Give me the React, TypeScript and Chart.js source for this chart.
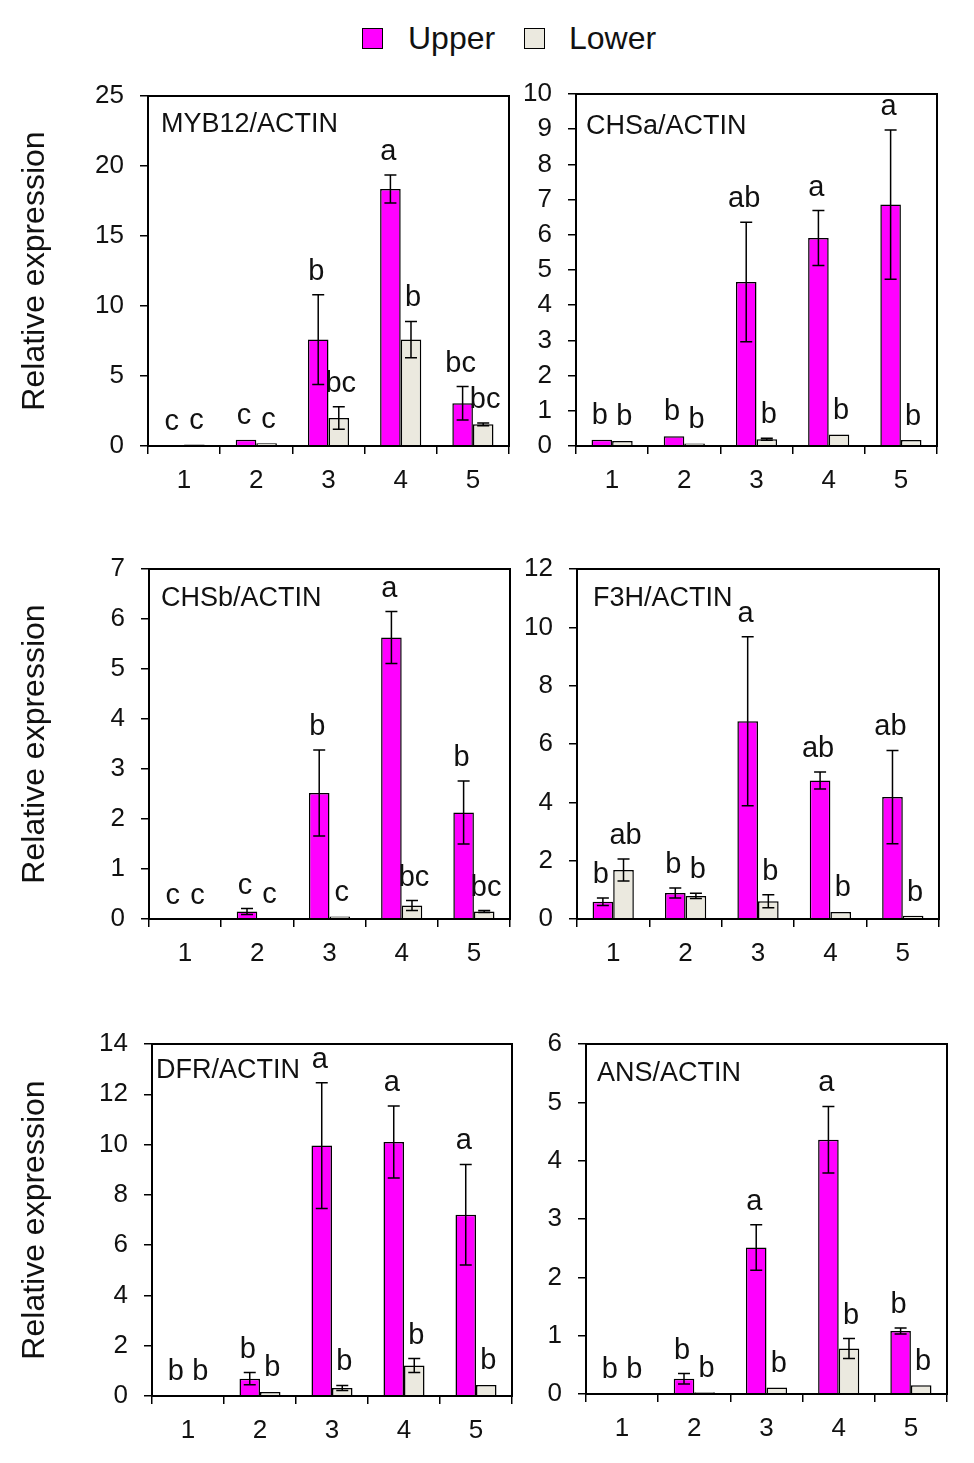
import React, { useEffect, useRef } from "react";
import { Chart, registerables } from "chart.js";

Chart.register(...registerables);

// ---------------- DATA ----------------
const categories = ["1", "2", "3", "4", "5"];
const seriesNames = ["Upper", "Lower"];
const panelTitles = ["MYB12/ACTIN", "CHSa/ACTIN", "CHSb/ACTIN", "F3H/ACTIN", "DFR/ACTIN", "ANS/ACTIN"];
const panelYMax = [25, 10, 7, 12, 14, 6];
const panelYStep = [5, 1, 1, 2, 2, 1];
const yAxisTitle = "Relative expression";

// MYB12
const myb12Upper = [0.05, 0.45, 7.6, 18.35, 3.05];
const myb12UpperErr = [0.02, 0.05, 3.2, 1.0, 1.2];
const myb12Lower = [0.1, 0.2, 2.0, 7.6, 1.55];
const myb12LowerErr = [0.03, 0.05, 0.8, 1.3, 0.1];
const myb12UpperLetters = ["c", "c", "b", "a", "bc"];
const myb12LowerLetters = ["c", "c", "bc", "b", "bc"];

// CHSa
const chsaUpper = [0.18, 0.28, 4.66, 5.91, 6.86];
const chsaUpperErr = [0.02, 0.02, 1.7, 0.78, 2.12];
const chsaLower = [0.14, 0.07, 0.19, 0.33, 0.17];
const chsaLowerErr = [0.02, 0.01, 0.03, 0.02, 0.01];
const chsaUpperLetters = ["b", "b", "ab", "a", "a"];
const chsaLowerLetters = ["b", "b", "b", "b", "b"];

// CHSb
const chsbUpper = [0.01, 0.15, 2.52, 5.63, 2.13];
const chsbUpperErr = [0.0, 0.06, 0.86, 0.52, 0.63];
const chsbLower = [0.01, 0.02, 0.05, 0.27, 0.15];
const chsbLowerErr = [0.0, 0.0, 0.01, 0.1, 0.02];
const chsbUpperLetters = ["c", "c", "b", "a", "b"];
const chsbLowerLetters = ["c", "c", "c", "bc", "bc"];

// F3H
const f3hUpper = [0.59, 0.89, 6.78, 4.75, 4.18];
const f3hUpperErr = [0.13, 0.17, 2.9, 0.29, 1.6];
const f3hLower = [1.68, 0.79, 0.61, 0.24, 0.11];
const f3hLowerErr = [0.38, 0.09, 0.22, 0.02, 0.01];
const f3hUpperLetters = ["b", "b", "a", "ab", "ab"];
const f3hLowerLetters = ["ab", "b", "b", "b", "b"];

// DFR
const dfrUpper = [0.02, 0.69, 9.96, 10.1, 7.21];
const dfrUpperErr = [0.0, 0.24, 2.5, 1.43, 2.0];
const dfrLower = [0.02, 0.16, 0.32, 1.21, 0.44];
const dfrLowerErr = [0.0, 0.02, 0.1, 0.28, 0.02];
const dfrUpperLetters = ["b", "b", "a", "a", "a"];
const dfrLowerLetters = ["b", "b", "b", "b", "b"];

// ANS
const ansUpper = [0.01, 0.26, 2.51, 4.36, 1.08];
const ansUpperErr = [0.0, 0.09, 0.39, 0.57, 0.05];
const ansLower = [0.01, 0.03, 0.11, 0.78, 0.15];
const ansLowerErr = [0.0, 0.0, 0.01, 0.17, 0.01];
const ansUpperLetters = ["b", "b", "a", "a", "b"];
const ansLowerLetters = ["b", "b", "b", "b", "b"];

// ---------------- STYLE / LAYOUT ----------------
const FONT = "'Liberation Sans', Arial, Helvetica, sans-serif";
const UPPER_COLOR = "#FF00FF";
const LOWER_COLOR = "#EBE9DF";
const TEXT_COLOR = "#111";

type Layout = {
  x: number; y: number; w: number; h: number;
  yw: number; xh: number; padTop: number; padRight: number;
  tdx: number; tdy: number; showYTitle: boolean;
};

// chart areas (page px): P1 148-509 x 96-446, P2 576-937 x 94-446, P3 149-510 x 569-919,
// P4 577-939 x 569-919, P5 152-512 x 1044-1396, P6 586-947 x 1044-1394
const layouts: Layout[] = [
  { x: 0, y: 60, w: 520, h: 450, yw: 148, xh: 64, padTop: 36, padRight: 11, tdx: 13, tdy: 36, showYTitle: true },
  { x: 520, y: 60, w: 454, h: 450, yw: 56, xh: 64, padTop: 34, padRight: 37, tdx: 10, tdy: 40, showYTitle: false },
  { x: 0, y: 535, w: 520, h: 450, yw: 149, xh: 66, padTop: 34, padRight: 10, tdx: 12, tdy: 37, showYTitle: true },
  { x: 520, y: 535, w: 454, h: 450, yw: 57, xh: 66, padTop: 34, padRight: 35, tdx: 16, tdy: 37, showYTitle: false },
  { x: 0, y: 1010, w: 520, h: 453, yw: 152, xh: 67, padTop: 34, padRight: 8, tdx: 4, tdy: 34, showYTitle: true },
  { x: 520, y: 1010, w: 454, h: 453, yw: 66, xh: 69, padTop: 34, padRight: 27, tdx: 11, tdy: 37, showYTitle: false },
];

const panelSeries = [
  { upper: myb12Upper, upperErr: myb12UpperErr, lower: myb12Lower, lowerErr: myb12LowerErr, ul: myb12UpperLetters, ll: myb12LowerLetters },
  { upper: chsaUpper, upperErr: chsaUpperErr, lower: chsaLower, lowerErr: chsaLowerErr, ul: chsaUpperLetters, ll: chsaLowerLetters },
  { upper: chsbUpper, upperErr: chsbUpperErr, lower: chsbLower, lowerErr: chsbLowerErr, ul: chsbUpperLetters, ll: chsbLowerLetters },
  { upper: f3hUpper, upperErr: f3hUpperErr, lower: f3hLower, lowerErr: f3hLowerErr, ul: f3hUpperLetters, ll: f3hLowerLetters },
  { upper: dfrUpper, upperErr: dfrUpperErr, lower: dfrLower, lowerErr: dfrLowerErr, ul: dfrUpperLetters, ll: dfrLowerLetters },
  { upper: ansUpper, upperErr: ansUpperErr, lower: ansLower, lowerErr: ansLowerErr, ul: ansUpperLetters, ll: ansLowerLetters },
];

function makeOverlay(idx: number) {
  const s = panelSeries[idx];
  const L = layouts[idx];
  const errs = [s.upperErr, s.lowerErr];
  const letters = [s.ul, s.ll];
  const spread = [-2, 2];
  return {
    id: "overlay" + idx,
    afterDatasetsDraw(chart: any) {
      const { ctx, chartArea } = chart;
      const yS = chart.scales.y;
      ctx.save();
      // frame (top and right sides of the box)
      ctx.strokeStyle = "#000";
      ctx.lineWidth = 2;
      ctx.strokeRect(chartArea.left, chartArea.top, chartArea.right - chartArea.left, chartArea.bottom - chartArea.top);
      // error bars and significance letters
      chart.data.datasets.forEach((ds: any, di: number) => {
        const meta = chart.getDatasetMeta(di);
        meta.data.forEach((bar: any, i: number) => {
          const v = ds.data[i];
          const e = errs[di][i];
          const yt = yS.getPixelForValue(v + e);
          const yb = yS.getPixelForValue(Math.max(0, v - e));
          if (yb - yt > 1.5) {
            ctx.strokeStyle = "#000";
            ctx.lineWidth = 1.5;
            const cw = 6;
            ctx.beginPath();
            ctx.moveTo(bar.x, yt);
            ctx.lineTo(bar.x, yb);
            ctx.moveTo(bar.x - cw, yt);
            ctx.lineTo(bar.x + cw, yt);
            ctx.moveTo(bar.x - cw, yb);
            ctx.lineTo(bar.x + cw, yb);
            ctx.stroke();
          }
          ctx.fillStyle = TEXT_COLOR;
          ctx.font = `29px ${FONT}`;
          ctx.textAlign = "center";
          ctx.textBaseline = "alphabetic";
          ctx.fillText(letters[di][i], bar.x + spread[di], Math.min(yt, yS.getPixelForValue(v)) - 15);
        });
      });
      // panel title
      ctx.fillStyle = TEXT_COLOR;
      ctx.font = `27px ${FONT}`;
      ctx.textAlign = "left";
      ctx.textBaseline = "alphabetic";
      ctx.fillText(panelTitles[idx], chartArea.left + L.tdx, chartArea.top + L.tdy);
      ctx.restore();
    },
  };
}

function Panel({ idx }: { idx: number }) {
  const ref = useRef<HTMLCanvasElement | null>(null);
  const L = layouts[idx];
  useEffect(() => {
    if (!ref.current) return;
    Chart.defaults.font.family = FONT;
    const s = panelSeries[idx];
    const chart = new Chart(ref.current, {
      type: "bar",
      data: {
        labels: categories,
        datasets: [
          {
            label: seriesNames[0],
            data: s.upper,
            backgroundColor: UPPER_COLOR,
            borderColor: "#000",
            borderWidth: 1.5,
            categoryPercentage: 0.57,
            barPercentage: 1.0,
          },
          {
            label: seriesNames[1],
            data: s.lower,
            backgroundColor: LOWER_COLOR,
            borderColor: "#000",
            borderWidth: 1.5,
            categoryPercentage: 0.57,
            barPercentage: 1.0,
          },
        ],
      },
      options: {
        responsive: false,
        animation: false,
        layout: { padding: { top: L.padTop, right: L.padRight, left: 0, bottom: 0 } },
        plugins: {
          legend: { display: false },
          tooltip: { enabled: false },
        },
        scales: {
          x: {
            ticks: { color: TEXT_COLOR, font: { size: 26, family: FONT }, padding: 11 },
            grid: { offset: true, drawOnChartArea: false, drawTicks: true, tickLength: 8, color: "#000", lineWidth: 1.5 },
            border: { display: true, color: "#000", width: 2 },
            afterFit: (sc: any) => { sc.height = L.xh; },
          },
          y: {
            min: 0,
            max: panelYMax[idx],
            ticks: { stepSize: panelYStep[idx], color: TEXT_COLOR, font: { size: 26, family: FONT }, padding: 16 },
            grid: { drawOnChartArea: false, drawTicks: true, tickLength: 8, color: "#000", lineWidth: 1.5 },
            border: { display: true, color: "#000", width: 2 },
            title: {
              display: L.showYTitle,
              text: yAxisTitle,
              color: TEXT_COLOR,
              font: { size: 32, family: FONT },
              padding: { top: 16, bottom: 0 },
            },
            afterFit: (sc: any) => { sc.width = L.yw; },
          },
        },
      },
      plugins: [makeOverlay(idx)],
    } as any);
    return () => chart.destroy();
  }, [idx]);
  return (
    <canvas
      ref={ref}
      width={L.w}
      height={L.h}
      style={{ position: "absolute", left: L.x, top: L.y, width: L.w, height: L.h }}
    />
  );
}

function Legend() {
  const box = (color: string, left: number) => (
    <div
      style={{
        position: "absolute", left, top: 28, width: 19, height: 19,
        background: color, border: "1.5px solid #000",
      }}
    />
  );
  const label = (text: string, left: number) => (
    <div
      style={{
        position: "absolute", left, top: 22, fontFamily: FONT, fontSize: 32,
        lineHeight: "32px", color: TEXT_COLOR, whiteSpace: "nowrap",
      }}
    >
      {text}
    </div>
  );
  return (
    <>
      {box(UPPER_COLOR, 362)}
      {label(seriesNames[0], 408)}
      {box(LOWER_COLOR, 524)}
      {label(seriesNames[1], 569)}
    </>
  );
}

export default function App() {
  return (
    <div style={{ position: "absolute", left: 0, top: 0, width: 974, height: 1463, background: "#fff", overflow: "hidden" }}>
      <Legend />
      {layouts.map((_, i) => (
        <Panel key={i} idx={i} />
      ))}
    </div>
  );
}
